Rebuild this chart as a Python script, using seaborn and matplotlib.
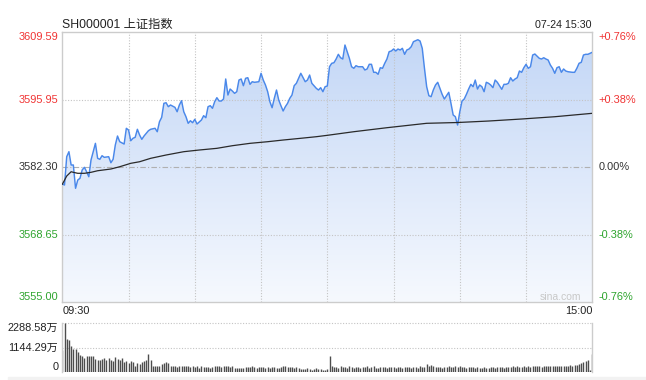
import numpy as np
import matplotlib
matplotlib.use("Agg")
import matplotlib.pyplot as plt
import seaborn as sns
from matplotlib.patches import Rectangle
from matplotlib.colors import LinearSegmentedColormap

# ---------------- data ----------------
title = "SH000001 上证指数"
date_label = "07-24 15:30"
prev_close = 3582.30
y_ticks = [3609.59, 3595.95, 3582.30, 3568.65, 3555.00]
y_tick_labels = ["3609.59", "3595.95", "3582.30", "3568.65", "3555.00"]
pct_labels = ["+0.76%", "+0.38%", "0.00%", "-0.38%", "-0.76%"]
time_labels = ["09:30", "15:00"]
vol_ticks = [2288.58, 1144.29, 0]
vol_tick_labels = ["2288.58万", "1144.29万", "0"]

price_minutes = [
    0, 1, 2, 3, 4, 5, 6, 7, 8, 9, 10, 11, 12, 13, 15, 16, 17, 18, 19, 21,
    22, 23, 24, 25, 26, 28, 29, 30, 31, 32, 33, 34, 35, 36, 37, 39, 40, 42, 43, 44,
    45, 46, 47, 48, 49, 51, 52, 53, 54, 55, 56, 57, 58, 59, 60, 61, 63, 64, 65, 66,
    67, 68, 69, 70, 71, 72, 73, 74, 75, 76, 77, 78, 79, 80, 81, 82, 83, 84, 85, 86,
    87, 89, 90, 91, 92, 93, 94, 95, 96, 97, 98, 99, 100, 101, 102, 103, 104, 105, 106, 107,
    108, 110, 111, 112, 113, 114, 115, 116, 117, 118, 119, 120, 121, 122, 123, 124, 125, 126, 127, 128,
    129, 130, 131, 132, 133, 134, 136, 137, 138, 139, 140, 141, 142, 143, 144, 145, 146, 147, 148, 149,
    150, 151, 152, 153, 154, 155, 156, 157, 158, 159, 160, 161, 162, 163, 164, 165, 166, 167, 168, 169,
    170, 171, 172, 173, 175, 176, 177, 178, 179, 180, 181, 182, 183, 184, 185, 186, 187, 188, 189, 190,
    191, 192, 193, 194, 195, 196, 197, 198, 199, 200, 201, 202, 203, 204, 205, 206, 207, 208, 209, 210,
    211, 212, 213, 214, 216, 217, 218, 219, 220, 221, 222, 223, 224, 225, 226, 227, 228, 229, 231, 232,
    233, 234, 235, 236, 237, 238, 240,
]
price_values = [
    3578.92, 3578.71, 3584.44, 3585.45, 3582.76, 3582.76, 3578.05, 3579.72, 3580.07, 3581.75,
    3582.29, 3581.40, 3580.39, 3583.77, 3587.14, 3584.11, 3583.91, 3584.64, 3584.31, 3584.44,
    3583.22, 3583.91, 3586.80, 3588.62, 3587.47, 3587.00, 3590.18, 3589.83, 3587.67, 3588.16,
    3588.36, 3589.98, 3588.82, 3587.95, 3588.62, 3589.69, 3589.98, 3590.18, 3589.49, 3591.51,
    3592.40, 3595.23, 3595.35, 3594.55, 3594.89, 3594.42, 3593.53, 3594.89, 3595.76, 3593.53,
    3592.52, 3591.19, 3591.71, 3591.31, 3592.00, 3591.05, 3591.86, 3592.73, 3592.32, 3594.55,
    3594.75, 3594.22, 3595.56, 3596.37, 3595.70, 3595.70, 3596.10, 3600.15, 3596.91, 3598.12,
    3597.72, 3597.25, 3597.58, 3599.94, 3600.15, 3598.79, 3600.29, 3600.41, 3599.07, 3599.60,
    3599.48, 3599.60, 3601.30, 3599.94, 3598.93, 3597.58, 3595.56, 3594.34, 3596.24, 3597.92,
    3595.90, 3594.75, 3593.68, 3594.55, 3595.23, 3596.24, 3596.91, 3598.79, 3599.28, 3600.29,
    3601.30, 3599.60, 3599.94, 3600.95, 3599.28, 3598.79, 3598.27, 3597.92, 3598.39, 3597.58,
    3598.59, 3598.73, 3602.63, 3603.32, 3603.44, 3604.19, 3605.14, 3604.45, 3604.19, 3607.02,
    3605.67, 3604.33, 3602.63, 3602.31, 3602.84, 3602.63, 3602.63, 3601.97, 3602.17, 3603.12,
    3603.12, 3601.50, 3601.50, 3601.10, 3602.43, 3602.31, 3603.32, 3604.19, 3605.67, 3605.81,
    3606.21, 3605.81, 3606.21, 3606.01, 3606.35, 3605.14, 3606.01, 3606.21, 3606.68, 3607.69,
    3607.89, 3608.09, 3607.83, 3606.35, 3602.31, 3598.59, 3596.77, 3596.57, 3597.92, 3598.93,
    3599.48, 3598.27, 3597.05, 3596.10, 3597.46, 3595.23, 3592.87, 3592.52, 3590.84, 3593.53,
    3595.70, 3596.10, 3597.05, 3598.12, 3599.07, 3598.59, 3599.94, 3598.12, 3598.93, 3598.59,
    3597.58, 3599.48, 3599.28, 3598.93, 3598.39, 3599.94, 3599.48, 3598.79, 3598.06, 3599.07,
    3599.07, 3599.28, 3600.41, 3599.74, 3600.15, 3600.41, 3601.76, 3601.50, 3602.43, 3603.12,
    3602.31, 3602.63, 3605.00, 3605.20, 3604.33, 3604.19, 3604.45, 3604.19, 3603.99, 3602.98,
    3602.31, 3601.30, 3602.43, 3602.63, 3601.50, 3602.17, 3601.76, 3601.62, 3601.50, 3601.50,
    3602.31, 3603.32, 3603.52, 3605.00, 3605.14, 3605.14, 3605.55,
]

avg_minutes = [0, 2, 4, 5, 7, 10, 13, 16, 22, 26, 31, 35, 40, 47, 55, 62, 70, 77, 85, 93,
               100, 108, 115, 120, 132, 147, 165, 179, 193, 208, 223, 240]
avg_values = [3578.85, 3580.53, 3581.40, 3581.28, 3581.08, 3581.08, 3581.28, 3581.60,
              3581.95, 3582.41, 3583.10, 3583.42, 3584.11, 3584.78, 3585.45, 3585.79,
              3586.13, 3586.66, 3587.14, 3587.47, 3587.81, 3588.16, 3588.48, 3588.76,
              3589.49, 3590.30, 3591.19, 3591.35, 3591.65, 3592.06, 3592.52, 3593.21]

volume = (
    [1059, 2288.58, 1557, 1495, 1246, 1090, 1090, 934]
    + [825, 747, 670, 780, 747, 747, 780]
    + [623, 592, 592, 623, 670]
    + [560, 670, 560, 514, 715]
    + [623, 560, 670, 467, 514]
    + [436, 514, 467, 311, 436]
    + [405, 467, 514, 560, 872]
    + [560, 311, 311, 311, 311]
    + [405, 436, 467, 436, 311]
    + [311, 280, 249, 280, 280, 280, 280, 280]
    + [249, 280, 249, 280, 202, 280, 249]
    + [249, 249, 202, 249, 280, 280, 311, 249]
    + [311, 280, 280, 249, 311, 202, 202]
    + [202, 202, 202, 249, 249, 249, 280, 249, 202]
    + [249, 249, 249, 202, 249, 202, 249, 249, 202]
    + [202, 249, 280, 311, 249, 249, 249, 202, 249]
    + [202, 156, 156, 156, 202, 156, 125, 156, 187, 156]
    + [156, 125, 125, 156, 778]
    + [280, 249, 249, 202, 280, 249, 249, 202, 280, 249]
    + [202, 249, 249, 202, 249, 249, 280, 202, 249, 280]
    + [202, 202, 249, 249, 249, 202, 249, 249, 249, 202, 249]
    + [249, 202, 249, 249, 249, 202, 249, 249, 202, 280, 249, 249]
    + [405, 311, 358, 280]
    + [249, 249, 249, 202, 249, 249, 280, 249, 249, 280, 249]
    + [280, 249, 249, 202, 249, 249, 249, 202, 249, 202, 202]
    + [249, 202, 202, 249, 249, 202, 249, 249, 249, 202]
    + [249, 249, 249, 280, 249, 311, 249, 249, 280]
    + [249, 280, 249, 311, 280, 280, 311, 249, 280]
    + [280, 311, 280, 280, 280, 311, 280, 311, 280, 311, 311, 358]
    + [311, 358, 358, 405, 436, 467, 514, 560]
    + [125, 856]
)
vol_minutes = list(range(len(volume)))

# ---------------- style ----------------
sns.set_style("white")
plt.rcParams["font.family"] = ["Liberation Sans", "Noto Sans CJK SC", "DejaVu Sans"]

W, H = 646, 380
fig = plt.figure(figsize=(W / 100, H / 100), dpi=100)
L, R = 62.3, 592.3
ax = fig.add_axes([L / W, 1 - 302.3 / H, (R - L) / W, 270 / H])
axv = fig.add_axes([L / W, 1 - 372.3 / H, (R - L) / W, 49 / H])

red, green, dark = "#f03333", "#2da42d", "#333333"
label_colors = [red, red, dark, green, green]
grid_c = "#c4c4c4"
spine_c = "#cccccc"

ymin, ymax = y_ticks[-1], y_ticks[0]
ax.set_xlim(0, 240)
ax.set_ylim(ymin, ymax)

# gradient fill under the price line
cmap = LinearSegmentedColormap.from_list("fill", ["#f6f9fe", "#c2d6f6"])
grad = np.linspace(1, 0, 256).reshape(-1, 1)
im = ax.imshow(grad, extent=[0, 240, ymin, ymax], aspect="auto", cmap=cmap, zorder=0.2)
poly = ax.fill_between(price_minutes, price_values, ymin, color="none", lw=0)
im.set_clip_path(poly.get_paths()[0], transform=ax.transData)

# grid
ax.set_xticks([30, 60, 90, 120, 150, 180, 210])
ax.set_yticks([y_ticks[1], y_ticks[3]])
ax.grid(True, color=grid_c, ls=(0, (1, 1.5)), lw=0.8)
ax.tick_params(left=False, bottom=False, labelleft=False, labelbottom=False)
ax.axhline(prev_close, color="#b0b0b0", lw=0.8, ls=(0, (5, 2, 1, 2)), zorder=1.5)

sns.lineplot(x=price_minutes, y=price_values, ax=ax, color="#4a88ea", lw=1.05, zorder=3)
sns.lineplot(x=avg_minutes, y=avg_values, ax=ax, color="#2a2a2a", lw=0.9, zorder=3)
ax.set_xlabel("")
ax.set_ylabel("")
for s in ax.spines.values():
    s.set_color(spine_c)
    s.set_linewidth(1)

ytr = ax.get_yaxis_transform()
fs = 7.9
for i, (v, lab, pl, c) in enumerate(zip(y_ticks, y_tick_labels, pct_labels, label_colors)):
    va = "top" if i == 0 else ("bottom" if i == len(y_ticks) - 1 else "center")
    ax.text(-3.6 / (R - L), v, lab, transform=ytr, ha="right", va=va, color=c, fontsize=fs)
    ax.text(1 + 6 / (R - L), v, pl, transform=ytr, ha="left", va=va, color=c, fontsize=fs)

ax.text((581.7 - L) / (R - L), 5 / 270, "sina.com", transform=ax.transAxes,
        ha="right", va="center", color="#c8c8c8", fontsize=7.5)

fig.text(L / W, 1 - 25 / H, title, ha="left", va="center", fontsize=8.8, color="#222222")
fig.text(591.7 / W, 1 - 25.5 / H, date_label, ha="right", va="center", fontsize=7.7, color="#222222")
fig.text(63 / W, 1 - 311 / H, time_labels[0], ha="left", va="center", fontsize=fs, color="#222222")
fig.text(R / W, 1 - 311 / H, time_labels[1], ha="right", va="center", fontsize=fs, color="#222222")

# ---------------- volume ----------------
axv.set_xlim(0, 240)
axv.set_ylim(0, vol_ticks[0])
axv.vlines(vol_minutes, 0, volume, color="#4d4d4d", lw=1.0)
for v in vol_ticks[:2]:
    axv.axhline(v, color=grid_c, ls=(0, (1, 1.5)), lw=0.8, clip_on=False, zorder=0.5)
axv.set_xticks([])
axv.set_yticks([])
axv.spines["top"].set_visible(False)
axv.spines["bottom"].set_visible(False)
for k in ("left", "right"):
    axv.spines[k].set_color(spine_c)
    axv.spines[k].set_linewidth(1)
vtr = axv.get_yaxis_transform()
for i, (v, lab) in enumerate(zip(vol_ticks, vol_tick_labels)):
    va = "top" if i == 0 else ("bottom" if i == len(vol_ticks) - 1 else "center")
    axv.text(-4 / (R - L), v, lab, transform=vtr, ha="right", va=va, color="#222222", fontsize=fs)

fig.patches.append(Rectangle((8 / W, 0), 1, 3 / H, transform=fig.transFigure,
                             color="#f2f2f2", zorder=0))

fig.savefig("out.png", dpi=100)
